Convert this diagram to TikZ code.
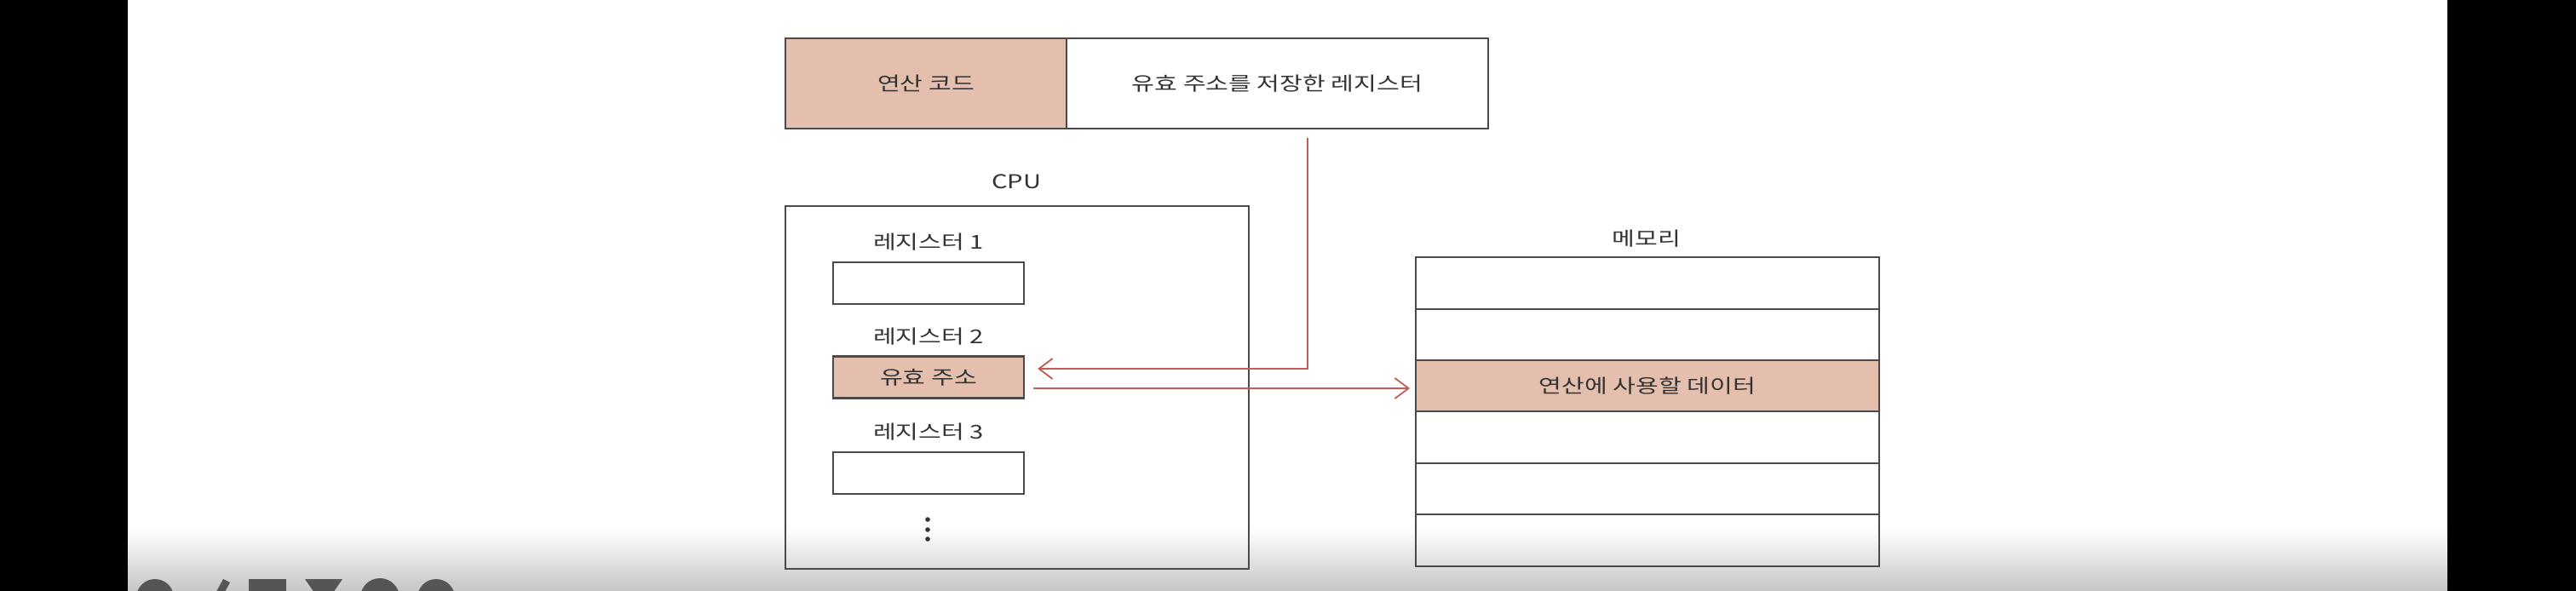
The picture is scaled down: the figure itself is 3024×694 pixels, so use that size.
\documentclass[tikz,border=0pt]{standalone}
\usepackage{fontspec}
\newfontfamily\kr[FakeStretch=1.3]{Noto Sans CJK KR}
\usetikzlibrary{arrows.meta,calc}
\definecolor{salmon}{HTML}{E4BFAE}
\definecolor{arrred}{HTML}{C65A55}
\definecolor{ink}{HTML}{333333}
\definecolor{edge}{HTML}{4A4A4A}
\definecolor{barbg}{HTML}{C6C6C6}
\definecolor{icon}{HTML}{555555}
\tikzset{
  txt/.style={font=\kr\fontsize{11.2pt}{13pt}\selectfont, text=ink},
  box/.style={draw=edge, line width=1.1pt, inner sep=0pt, txt},
  hot/.style={box, fill=salmon},
  lbl/.style={inner sep=0pt, txt},
  regbox/.style={box, minimum width=112pt, minimum height=24.5pt},
  memrow/.style={box, minimum width=272pt, minimum height=30.25pt},
  redarr/.style={draw=arrred, line width=0.9pt, -{Straight Barb[length=8pt,width=12pt,line width=0.9pt]}},
}
\begin{document}
\begin{tikzpicture}[x=0.5pt,y=-0.5pt]
\useasboundingbox (0,0) rectangle (3024,694);
% screen background
\fill[white] (0,0) rectangle (3024,694);
\shade[top color=white, bottom color=barbg] (150,620) rectangle (2873,694);
\fill[black] (0,0) rectangle (150,694);
\fill[black] (2873,0) rectangle (3024,694);
% player icons (cut off at bottom)
\begin{scope}
\clip (150,0) rectangle (2873,694);
\fill[icon] (182,702) circle (22);
\fill[icon] (250,702) -- (262,680) -- (270,684) -- (258,706) -- cycle;
\fill[icon] (292,680) rectangle (336,712);
\fill[icon] (358,680) -- (402,680) -- (380,712) -- cycle;
\fill[icon] (446,702) circle (23);
\fill[icon] (512,702) circle (22);
\end{scope}
% instruction
\node[hot, minimum width=165pt, minimum height=53pt] (opcode) at (1087,98) {연산 코드};
\node[box, minimum width=247.5pt, minimum height=53pt] (field) at (1499.5,98) {유효 주소를 저장한 레지스터};
% CPU
\node[lbl] (cpulbl) at (1193,213) {CPU};
\node[draw=edge, line width=1.1pt, minimum width=272pt, minimum height=213pt, inner sep=0pt] (cpu) at (1194,455) {};
\node[lbl] (r1lbl) at (1090,284) {레지스터 1};
\node[regbox] (reg1) at (1090,332.5) {};
\node[lbl] (r2lbl) at (1090,395) {레지스터 2};
\node[regbox, fill=salmon] (reg2) at (1090,443) {유효 주소};
\node[lbl] (r3lbl) at (1090,507) {레지스터 3};
\node[regbox] (reg3) at (1090,555.5) {};
\fill[ink] (1089,610) circle (2.8) (1089,622) circle (2.8) (1089,633) circle (2.8);
% memory
\node[lbl] (memlbl) at (1933,280) {메모리};
\node[memrow] (m1) at (1934,332.5) {};
\node[memrow] (m2) at (1934,393) {};
\node[memrow, fill=salmon] (m3) at (1934,453) {연산에 사용할 데이터};
\node[memrow] (m4) at (1934,513.5) {};
\node[memrow] (m5) at (1934,574) {};
\node[memrow] (m6) at (1934,634.5) {};
% connectors
\coordinate (drop) at (1535,151);
\draw[redarr, shorten <=5.5pt, shorten >=7.5pt] (drop) |- ([yshift=5pt]reg2.east);
\draw[redarr, shorten <=5pt, shorten >=3pt] ([yshift=-6.5pt]reg2.east) -- ([yshift=-6.5pt]reg2.east -| m3.west);
\end{tikzpicture}
\end{document}
